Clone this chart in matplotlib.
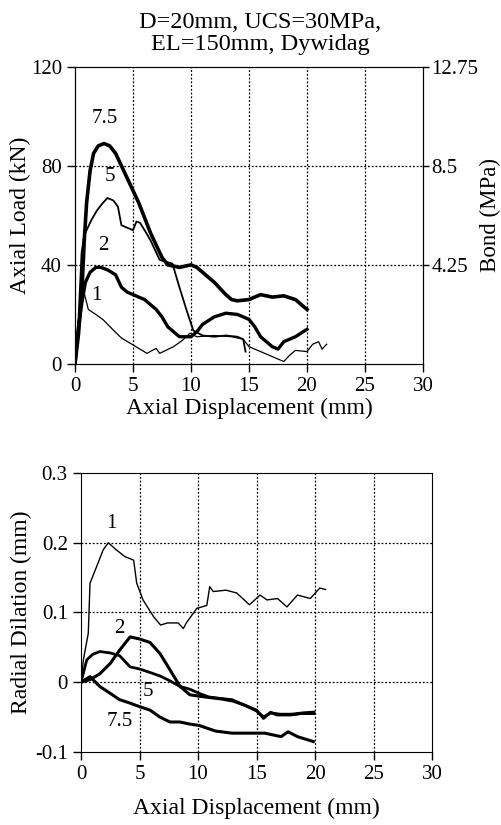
import numpy as np
import matplotlib
matplotlib.use("Agg")
import matplotlib.pyplot as plt

plt.rcParams['font.family'] = ['Liberation Serif', 'DejaVu Serif']

# --- axial load vs axial displacement (confining stiffness labels 1, 2, 5, 7.5) ---
load_x_75 = [0, 0.3, 0.6, 0.8, 1.0, 1.3, 1.6, 2.0, 2.5, 3.0, 3.5, 4.0, 4.5, 5.0, 5.5, 6.0,
             6.5, 7.0, 7.5, 8.0, 9.0, 10.0, 10.5, 11.0, 12.0, 13.0, 13.5, 14.0, 15.0, 16.0,
             17.0, 18.0, 19.0, 19.5, 20.0]
load_y_75 = [0, 12, 30, 50, 65, 78, 85, 88, 89, 88, 85, 80, 75, 70, 65, 59,
             53, 48, 43, 40, 39, 40, 39, 37, 33, 28, 26, 25.5, 26, 28,
             27, 27.5, 26, 24, 22]

load_x_5 = [0, 0.3, 0.57, 0.8, 1.0, 1.4, 1.9, 2.4, 2.8, 3.3, 3.7, 4.0, 4.5, 5.0, 5.3, 5.6,
            6.0, 6.5, 7.3, 8.4, 9.0, 9.6, 10.2, 11.0, 12.0, 13.0, 14.0, 14.5, 14.7]
load_y_5 = [0, 18, 45, 52, 54, 58, 62, 65, 67, 66, 63.5, 56, 55, 54, 57.5, 57,
            54, 50, 42, 40.5, 31, 22, 13.5, 11.5, 11, 11.5, 11, 10, 5]

load_x_2 = [0, 0.3, 0.6, 0.9, 1.3, 1.8, 2.2, 2.8, 3.5, 4.0, 4.5, 5.0, 6.0, 7.0, 7.5, 8.0,
            8.5, 9.0, 10.0, 10.5, 11.0, 12.0, 13.0, 14.0, 15.0, 15.5, 16.0, 17.0, 17.5,
            18.0, 19.0, 20.0]
load_y_2 = [0, 15, 25, 33, 37, 39, 39, 38, 36, 31, 29, 28, 26, 22, 19, 15,
            13, 11, 11, 13, 16, 19, 20.5, 20, 18, 15, 11, 7, 6,
            9, 11, 14]

load_x_1 = [0, 0.3, 0.72, 1.15, 1.8, 2.44, 3.3, 4.0, 5.0, 6.2, 7.0, 7.3, 8.5, 9.3, 9.9,
            10.5, 12.0, 13.5, 14.5, 15.0, 16.0, 17.0, 18.0, 18.5, 19.0, 20.0, 20.5, 21.0,
            21.3, 21.7]
load_y_1 = [0, 18, 30, 22, 20, 17.8, 13.7, 10.5, 7.7, 4.3, 6.3, 4.3, 7, 9.7, 12.4,
            11, 11.5, 11, 10, 7, 5, 3, 1, 3.5, 5.5, 5, 8, 9, 6, 8]

# --- radial dilation vs axial displacement ---
dil_x_1 = [0, 0.2, 0.62, 0.77, 1.34, 1.9, 2.33, 3.0, 3.76, 4.5, 4.76, 5.3, 6.2, 6.8, 7.4,
           8.3, 8.75, 9.0, 9.9, 10.75, 11.0, 11.3, 12.4, 13.3, 14.4, 15.3, 15.9, 16.8,
           17.6, 18.5, 19.6, 20.4, 20.9]
dil_y_1 = [0, 0.032, 0.07, 0.142, 0.166, 0.19, 0.2, 0.19, 0.18, 0.175, 0.142, 0.118,
           0.094, 0.082, 0.085, 0.085, 0.077, 0.085, 0.106, 0.11, 0.137, 0.13, 0.132,
           0.128, 0.111, 0.125, 0.118, 0.12, 0.108, 0.125, 0.12, 0.135, 0.133]

dil_x_2 = [0, 0.8, 1.6, 2.5, 3.3, 4.2, 5.0, 5.9, 6.75, 7.6, 8.46, 9.3, 10.1, 11.0, 12.0,
           13.0, 14.0, 15.0, 15.6, 16.2, 17.0, 18.0, 19.0, 19.9]
dil_y_2 = [0, 0.004, 0.012, 0.027, 0.046, 0.065, 0.062, 0.057, 0.041, 0.018, -0.006,
           -0.018, -0.02, -0.022, -0.024, -0.027, -0.033, -0.041, -0.05, -0.044, -0.046,
           -0.046, -0.044, -0.043]

dil_x_5 = [0, 0.49, 1.0, 1.6, 2.5, 3.3, 4.2, 5.0, 5.9, 6.75, 7.6, 8.46, 9.3, 10.1, 10.9,
           11.8, 12.9, 14.0, 15.0, 15.6, 16.2, 16.75, 17.9, 18.8, 19.9]
dil_y_5 = [0, 0.032, 0.04, 0.044, 0.042, 0.038, 0.022, 0.019, 0.014, 0.009, 0.002, -0.006,
           -0.01, -0.016, -0.021, -0.023, -0.025, -0.033, -0.04, -0.052, -0.043, -0.047,
           -0.047, -0.045, -0.045]

dil_x_75 = [0, 0.77, 1.6, 2.5, 3.3, 4.2, 5.0, 5.9, 6.75, 7.6, 8.46, 9.3, 10.1, 11.5, 12.9,
            14.3, 15.7, 17.1, 17.7, 18.5, 19.85]
dil_y_75 = [0, 0.008, -0.006, -0.016, -0.025, -0.03, -0.035, -0.04, -0.05, -0.057, -0.057,
            -0.06, -0.062, -0.07, -0.073, -0.073, -0.073, -0.078, -0.071, -0.078, -0.085]

disp_ticks = [0, 5, 10, 15, 20, 25, 30]
load_ticks = [0, 40, 80, 120]
bond_labels = ['4.25', '8.5', '12.75']
dil_ticks = [-0.1, 0, 0.1, 0.2, 0.3]
dil_labels = ['-0.1', '0', '0.1', '0.2', '0.3']

TICK_FS = 15
LABEL_FS = 17
NOTE_FS = 15

fig = plt.figure(figsize=(5.01, 8.25), dpi=100)

grid_kw = dict(color='black', linestyle=(0, (1.5, 1.5)), linewidth=0.9)

# top panel
ax1 = fig.add_axes([0.1497, 0.5588, 0.6946, 0.3604])
ax1.plot(load_x_1, load_y_1, color='black', linewidth=0.9)
ax1.plot(load_x_5, load_y_5, color='black', linewidth=1.3)
ax1.plot(load_x_2, load_y_2, color='black', linewidth=2.4)
ax1.plot(load_x_75, load_y_75, color='black', linewidth=2.6)
ax1.set_xlim(0, 30)
ax1.set_ylim(0, 120)
ax1.set_xticks(disp_ticks)
ax1.set_yticks(load_ticks)
for v in disp_ticks[1:-1]:
    ax1.axvline(v, **grid_kw)
for v in load_ticks[1:-1]:
    ax1.axhline(v, **grid_kw)
ax1.tick_params(direction='out', length=6, width=1, labelsize=TICK_FS)
ax1.set_xlabel('Axial Displacement (mm)', fontsize=LABEL_FS, labelpad=1)
ax1.set_ylabel('Axial Load (kN)', fontsize=LABEL_FS, labelpad=0)
ax1.text(2.6, 99, '7.5', fontsize=NOTE_FS, ha='center', va='center')
ax1.text(3.0, 75.6, '5', fontsize=NOTE_FS, ha='center', va='center')
ax1.text(2.44, 48, '2', fontsize=NOTE_FS, ha='center', va='center')
ax1.text(1.87, 27.8, '1', fontsize=NOTE_FS, ha='center', va='center')

# bond stress axis on the right
ax1r = ax1.twinx()
ax1r.set_ylim(0, 120)
ax1r.set_yticks(load_ticks[1:])
ax1r.set_yticklabels(bond_labels)
ax1r.tick_params(direction='out', length=4, width=1, pad=2, labelsize=TICK_FS)
ax1r.set_ylabel('Bond (MPa)', fontsize=16.5, labelpad=1)

fig.text(0.52, 0.9594, 'D=20mm, UCS=30MPa,\nEL=150mm, Dywidag', fontsize=17.5,
         ha='center', va='center', linespacing=1.1)

# bottom panel
ax2 = fig.add_axes([0.1617, 0.0885, 0.7006, 0.3382])
ax2.plot(dil_x_1, dil_y_1, color='black', linewidth=1.0)
ax2.plot(dil_x_2, dil_y_2, color='black', linewidth=2.2)
ax2.plot(dil_x_5, dil_y_5, color='black', linewidth=2.0)
ax2.plot(dil_x_75, dil_y_75, color='black', linewidth=2.2)
ax2.set_xlim(0, 30)
ax2.set_ylim(-0.1, 0.3)
ax2.set_xticks(disp_ticks)
ax2.set_yticks(dil_ticks)
ax2.set_yticklabels(dil_labels)
for v in disp_ticks[1:-1]:
    ax2.axvline(v, **grid_kw)
for v in dil_ticks[1:-1]:
    ax2.axhline(v, **grid_kw)
ax2.tick_params(direction='out', length=6, width=1, labelsize=TICK_FS)
ax2.set_xlabel('Axial Displacement (mm)', fontsize=LABEL_FS, labelpad=10)
ax2.set_ylabel('Radial Dilation (mm)', fontsize=LABEL_FS, labelpad=2)
ax2.text(2.6, 0.228, '1', fontsize=NOTE_FS, ha='center', va='center')
ax2.text(3.3, 0.077, '2', fontsize=NOTE_FS, ha='center', va='center')
ax2.text(5.75, -0.013, '5', fontsize=NOTE_FS, ha='center', va='center')
ax2.text(3.3, -0.057, '7.5', fontsize=NOTE_FS, ha='center', va='center')

fig.savefig('out.png', dpi=100)
